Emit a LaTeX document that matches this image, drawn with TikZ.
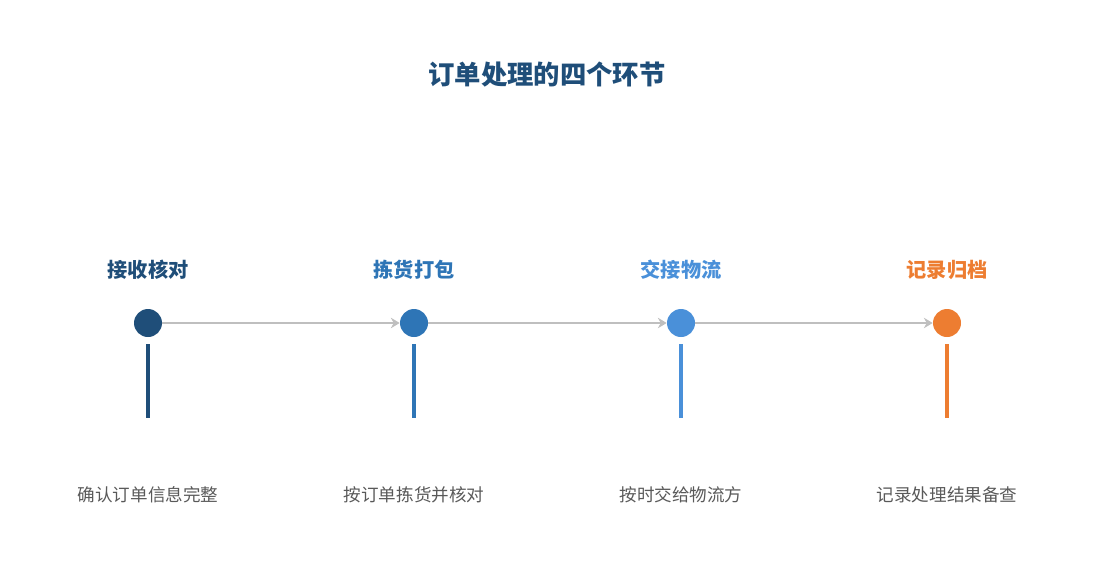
\documentclass[tikz,border=0pt]{standalone}
\usepackage{fontspec}
\newfontfamily\cjk{Noto Sans CJK SC}
\usetikzlibrary{arrows.meta}
\definecolor{stepa}{HTML}{1F4E79}
\definecolor{stepb}{HTML}{2E75B6}
\definecolor{stepc}{HTML}{4A90D9}
\definecolor{stepd}{HTML}{ED7D31}
\definecolor{linkgray}{HTML}{BFBFBF}
\definecolor{notegray}{HTML}{595959}
\tikzset{
	dot/.style={circle,fill=#1,minimum size=0.56cm,inner sep=0pt},
	head/.style={text=#1,font=\cjk\bfseries\fontsize{11.5}{13}\selectfont},
	note/.style={text=notegray,font=\cjk\fontsize{10}{12}\selectfont},
	link/.style={draw=linkgray,line width=1.6pt,-{Stealth[length=5pt,width=6pt]}},
}
\begin{document}
\begin{tikzpicture}[x=0.02cm,y=-0.02cm]
		\useasboundingbox (0,0) rectangle (1095,585);
		
		\node [text=stepa,font=\cjk\bfseries\fontsize{15}{18}\selectfont] (title) at (547,75) {订单处理的四个环节};
		
		\foreach \x/\c/\h/\n/\k in {148/stepa/接收核对/确认订单信息完整/1,414/stepb/拣货打包/按订单拣货并核对/2,681/stepc/交接物流/按时交给物流方/3,947/stepd/记录归档/记录处理结果备查/4} {
			\node [dot=\c] (s\k) at (\x,323) {};
			\node [head=\c] (h\k) at (\x,270) {\h};
			\node [note] (n\k) at (\x,495) {\n};
			\coordinate (t\k) at (\x,344);
			\coordinate (b\k) at (\x,418);
			\draw [\c,line width=2pt] (t\k) -- (b\k);
		}
		
		\foreach \a/\b in {1/2,2/3,3/4} {
			\draw [link] (s\a) -- (s\b);
		}
	\end{tikzpicture}
\end{document}
